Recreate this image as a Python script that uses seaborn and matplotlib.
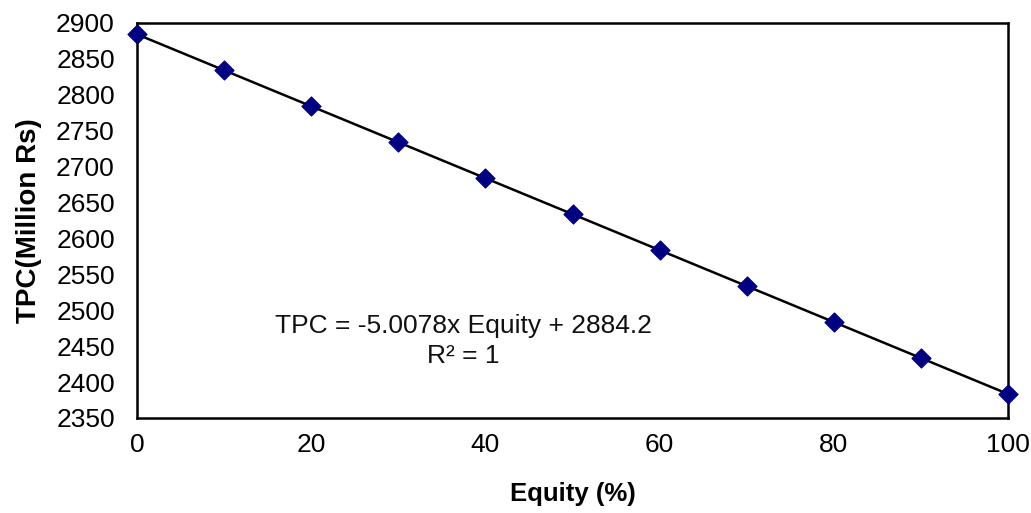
import matplotlib
matplotlib.use("Agg")
import matplotlib.pyplot as plt
import seaborn as sns
import pandas as pd
import numpy as np

equity = [0, 10, 20, 30, 40, 50, 60, 70, 80, 90, 100]
tpc = [2884, 2834, 2784, 2734, 2684, 2634, 2584, 2534, 2484, 2433, 2383]
x_ticks = [0, 20, 40, 60, 80, 100]
y_ticks = [2350, 2400, 2450, 2500, 2550, 2600, 2650, 2700, 2750, 2800, 2850, 2900]

sns.set_theme(style="white")
plt.rcParams['font.family'] = ['Liberation Sans', 'DejaVu Sans']

df = pd.DataFrame({"Equity": equity, "TPC": tpc})

fig = plt.figure(figsize=(10.31, 5.13), dpi=100)
ax = fig.add_axes([0.1329, 0.1852, 0.8448, 0.7700])

# trend line
sns.regplot(data=df, x="Equity", y="TPC", ax=ax, scatter=False, ci=None,
            truncate=True, line_kws=dict(color="black", lw=1.8, zorder=2))
sns.scatterplot(data=df, x="Equity", y="TPC", ax=ax, marker="D", s=95,
                color="#000080", edgecolor="#000080", zorder=3, clip_on=False)

ax.set_xlim(0, 100)
ax.set_ylim(2350, 2900)
ax.set_xticks(x_ticks)
ax.set_yticks(y_ticks)
ax.tick_params(axis="both", direction="in", length=7, width=1.3, colors="black",
               labelsize=19)
ax.tick_params(axis="y", pad=16)
ax.tick_params(axis="x", pad=11)
for sp in ax.spines.values():
    sp.set_color("black")
    sp.set_linewidth(1.8)

ax.set_xlabel("Equity (%)", fontsize=18.5, fontweight="bold", labelpad=18, color="black")
ax.set_ylabel("TPC(Million Rs)", fontsize=20, fontweight="bold", labelpad=10, color="black")

ax.text(37.5, 2478, "TPC = -5.0078x Equity + 2884.2", ha="center", va="center",
        fontsize=19, color="#111111")
ax.text(37.5, 2436, "R² = 1", ha="center", va="center", fontsize=19, color="#111111")

fig.savefig("out.png", dpi=100)
